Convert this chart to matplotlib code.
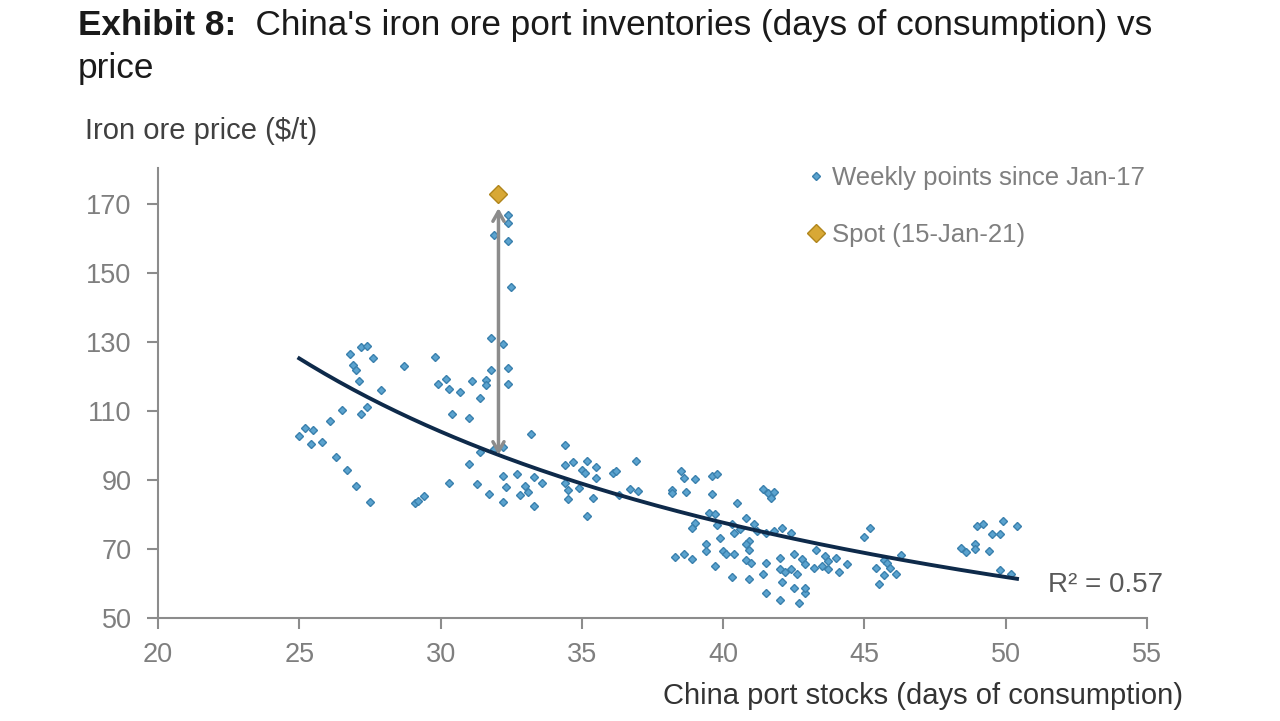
import matplotlib
matplotlib.use('Agg')
import matplotlib.pyplot as plt
import numpy as np
from matplotlib.lines import Line2D

plt.rcParams['font.family'] = ['Liberation Sans', 'DejaVu Sans']

# weekly points since Jan-17
stocks = [26.8, 27.2, 27.4, 27.6, 26.9, 27.0, 27.1, 27.9, 28.7, 29.8,
          29.9, 30.2, 30.3, 30.7, 31.1, 31.6, 31.6, 31.4, 31.8, 32.4,
          32.4, 31.8, 32.2, 32.4, 32.4, 31.9, 32.4, 32.5, 26.5, 27.4,
          27.2, 26.1, 25.2, 25.5, 25.0, 25.4, 25.8, 26.3, 26.7, 27.0,
          27.5, 29.1, 29.2, 29.4, 30.4, 31.0, 33.2, 31.4, 31.9, 32.2,
          31.0, 30.3, 31.3, 32.2, 32.7, 33.3, 32.3, 33.0, 31.7, 32.8,
          33.1, 32.2, 33.3, 33.6, 34.4, 36.9, 34.4, 34.7, 35.2, 35.5,
          35.0, 35.1, 35.5, 36.1, 36.2, 34.4, 34.5, 34.9, 34.5, 35.4,
          35.2, 36.3, 36.7, 37.0, 38.5, 38.6, 39.0, 39.6, 39.8, 38.2,
          38.2, 38.7, 39.6, 40.5, 41.4, 41.6, 41.8, 41.7, 39.5, 39.7,
          40.8, 39.0, 38.9, 39.8, 40.3, 40.6, 41.1, 41.2, 41.5, 41.8,
          42.1, 42.4, 40.4, 40.9, 39.9, 39.4, 39.4, 40.0, 40.1, 40.4,
          40.9, 40.8, 38.3, 38.6, 38.9, 39.7, 40.3, 40.9, 40.8, 41.0,
          41.5, 41.4, 41.5, 42.0, 42.0, 42.2, 42.4, 42.5, 42.8, 42.9,
          42.6, 42.1, 42.5, 42.9, 42.9, 42.0, 42.7, 43.3, 43.6, 43.7,
          43.5, 43.7, 43.2, 44.0, 44.1, 44.4, 45.2, 45.0, 46.3, 45.7,
          45.8, 45.4, 45.9, 45.7, 46.1, 45.5, 48.4, 48.6, 48.9, 48.9,
          49.4, 49.0, 49.2, 49.9, 50.4, 49.5, 49.8, 49.8, 50.2]
prices = [126.7, 128.7, 129.0, 125.3, 123.5, 121.8, 118.6, 116.0, 123.2, 125.8,
          118.0, 119.2, 116.5, 115.4, 118.6, 118.9, 117.7, 113.9, 121.8, 122.6,
          118.0, 131.1, 129.6, 166.8, 164.5, 161.0, 159.3, 145.9, 110.4, 111.3,
          109.3, 107.0, 105.2, 104.6, 102.9, 100.6, 100.9, 96.8, 93.0, 88.4,
          83.7, 83.4, 84.0, 85.5, 109.3, 108.1, 103.5, 98.2, 99.1, 99.7,
          94.8, 89.2, 88.9, 91.3, 91.8, 91.0, 88.1, 88.4, 86.0, 85.7,
          86.6, 83.7, 82.6, 89.2, 100.3, 95.6, 94.5, 95.3, 95.6, 93.9,
          93.0, 92.1, 90.7, 92.1, 92.7, 89.2, 87.2, 87.8, 84.6, 84.9,
          79.6, 85.7, 87.5, 86.9, 92.7, 90.7, 90.4, 91.3, 91.8, 87.2,
          86.3, 86.6, 86.0, 83.4, 87.5, 86.3, 86.6, 84.9, 80.5, 80.2,
          79.1, 77.6, 76.2, 77.0, 77.3, 75.9, 77.3, 75.3, 74.7, 75.3,
          76.2, 74.7, 74.7, 72.4, 73.3, 71.5, 69.5, 69.5, 68.6, 68.6,
          69.8, 71.5, 67.7, 68.6, 67.2, 65.1, 61.9, 61.3, 66.9, 66.0,
          66.0, 62.8, 57.3, 67.4, 64.2, 63.4, 64.2, 68.6, 67.2, 65.7,
          62.8, 60.5, 58.7, 57.3, 58.7, 55.2, 54.4, 69.8, 68.0, 66.6,
          65.1, 64.2, 64.5, 67.4, 63.4, 65.7, 76.2, 73.5, 68.3, 66.9,
          66.0, 64.5, 64.5, 62.5, 62.8, 59.9, 70.3, 69.2, 71.5, 70.1,
          69.5, 76.7, 77.3, 78.2, 76.7, 74.4, 74.4, 64.0, 62.8]

spot_x = 32.05
spot_price = 172.9

x_ticks = [20, 25, 30, 35, 40, 45, 50, 55]
y_ticks = [50, 70, 90, 110, 130, 150, 170]

blue_face = '#5ba3cf'
blue_edge = '#3a80ad'
gold_face = '#d8a835'
gold_edge = '#b0851c'
grey = '#8c8c8c'

fig = plt.figure(figsize=(12.8, 7.21), dpi=100)
ax = fig.add_axes([0.1234, 0.1429, 0.7727, 0.624])

ax.plot(stocks, prices, ls='none', marker='D', ms=4.5, mfc=blue_face,
        mec=blue_edge, mew=1.0, zorder=3)

# power trend line, like the spreadsheet one
b, ln_a = np.polyfit(np.log(stocks), np.log(prices), 1)
xs = np.linspace(min(stocks), max(stocks), 200)
ax.plot(xs, np.exp(ln_a) * xs ** b, color='#0e2a4a', lw=2.8, zorder=4)

trend_at_spot = np.exp(ln_a) * spot_x ** b
ax.annotate('', xy=(spot_x, trend_at_spot), xytext=(spot_x, spot_price - 4),
            arrowprops=dict(arrowstyle='<->,head_length=0.7,head_width=0.4',
                            color=grey, lw=2.5, shrinkA=0, shrinkB=0),
            zorder=5)
ax.plot([spot_x], [spot_price], ls='none', marker='D', ms=9, mfc=gold_face,
        mec=gold_edge, mew=1.0, zorder=6)

ax.set_xlim(20, 55)
ax.set_ylim(50, 180.5)
ax.set_xticks(x_ticks)
ax.set_yticks(y_ticks)
for s in ['top', 'right']:
    ax.spines[s].set_visible(False)
for s in ['left', 'bottom']:
    ax.spines[s].set_color(grey)
    ax.spines[s].set_linewidth(1.5)
ax.tick_params(direction='out', length=8, width=1.5, color=grey,
               labelcolor='#7f7f7f', labelsize=19.5)
ax.tick_params(axis='y', pad=11)
ax.tick_params(axis='x', pad=9)

handles = [
    Line2D([], [], ls='none', marker='D', ms=4, mfc=blue_face, mec=blue_edge,
           label='Weekly points since Jan-17'),
    Line2D([], [], ls='none', marker='D', ms=9, mfc=gold_face, mec=gold_edge,
           label='Spot (15-Jan-21)'),
]
ax.legend(handles=handles, loc='upper left',
          bbox_to_anchor=(808 / 1280, 1 - 166 / 721),
          bbox_transform=fig.transFigure, frameon=False, fontsize=18.5,
          labelcolor='#7f7f7f', handlelength=0.6, handletextpad=0.35,
          labelspacing=1.3, borderpad=0, borderaxespad=0)

fig.text(1048 / 1280, 1 - 585 / 721, 'R² = 0.57', ha='left', va='center',
         fontsize=20, color='#595959')
fig.text(85 / 1280, 1 - 131 / 721, 'Iron ore price ($/t)', ha='left',
         va='center', fontsize=21, color='#404040')
fig.text(1183 / 1280, 1 - 696 / 721, 'China port stocks (days of consumption)',
         ha='right', va='center', fontsize=21, color='#333333')

# title: bold lead + regular text, sized to span the same width
title_fam = ['Liberation Sans Narrow', 'Liberation Sans']
renderer = fig.canvas.get_renderer()
x0 = 78 / 1280
base = 28
t1 = fig.text(x0, 1 - 35 / 721, 'Exhibit 8:', fontsize=base, weight='bold',
              family=title_fam, va='baseline', color='#1a1a1a')
t2 = fig.text(0, 1 - 35 / 721,
              "  China's iron ore port inventories (days of consumption) vs",
              fontsize=base, family=title_fam, va='baseline', color='#1a1a1a')
w = t1.get_window_extent(renderer).width + t2.get_window_extent(renderer).width
size = base * 1072 / w
t1.set_fontsize(size)
t2.set_fontsize(size)
t2.set_x(x0 + t1.get_window_extent(renderer).width / 1280)
fig.text(x0, 1 - 78 / 721, 'price', fontsize=size, family=title_fam,
         va='baseline', color='#1a1a1a')

fig.savefig('out.png', dpi=100)
